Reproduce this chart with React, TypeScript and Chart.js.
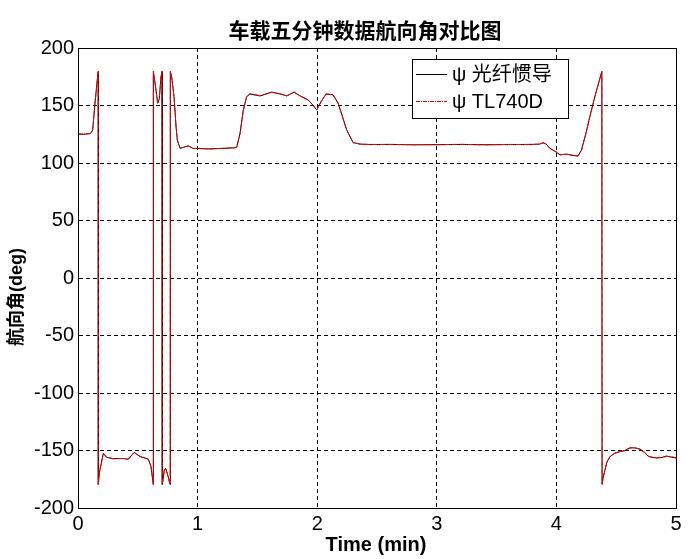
import React, { useEffect, useRef } from "react";
import { Chart, registerables } from "chart.js";

Chart.register(...registerables);

const TITLE = "车载五分钟数据航向角对比图";
const X_TITLE = "Time (min)";
const Y_TITLE = "航向角(deg)";
const LEGEND_LABELS = ["ψ 光纤惯导", "ψ TL740D"];
const X_TICKS = [0, 1, 2, 3, 4, 5];
const Y_TICKS = [-200, -150, -100, -50, 0, 50, 100, 150, 200];

// time in minutes
const timeMin = [
  0, 0.05, 0.1, 0.115, 0.123, 0.142, 0.161, 0.17,
  0.17, 0.178, 0.212, 0.24, 0.295, 0.38, 0.42, 0.47, 0.52, 0.588, 0.61, 0.63,
  0.63, 0.652, 0.666, 0.68, 0.694, 0.703,
  0.705, 0.722, 0.733, 0.747, 0.77,
  0.772, 0.783, 0.803, 0.82, 0.83, 0.853, 0.88, 0.922, 0.96,
  1.0, 1.1, 1.2, 1.3, 1.327, 1.355, 1.382, 1.41, 1.438,
  1.522, 1.62, 1.69, 1.745, 1.806, 1.87, 1.923, 1.957, 1.996, 2.03, 2.074,
  2.132, 2.174, 2.207, 2.247, 2.3, 2.358, 2.44,
  2.6, 2.8, 3.0, 3.2, 3.4, 3.6, 3.8, 3.86, 3.888, 3.913, 3.946, 3.997,
  4.03, 4.086, 4.13, 4.18, 4.21, 4.247, 4.28, 4.314, 4.337, 4.38,
  4.382, 4.39, 4.406, 4.423, 4.448, 4.49, 4.532, 4.573, 4.615, 4.657,
  4.699, 4.74, 4.766, 4.8, 4.838, 4.883, 4.922, 4.958, 5.0,
];

// heading (deg), fiber-optic INS
const headingFOG = [
  125, 125, 125.5, 127, 129, 152, 172, 179.5,
  -179.5, -169.6, -152.5, -156, -157, -157, -157.7, -151.6, -155.4, -157.4, -164, -179.5,
  179.5, 163.5, 151.9, 156, 175, 179.5,
  -179.5, -167, -165.5, -170, -179.5,
  179.5, 175, 157.7, 131.6, 120, 112.8, 113.6, 114.8, 112.8,
  112.5, 112.3, 112.6, 113.2, 113.7, 125.8, 146, 157.7, 160,
  158.3, 161.7, 160, 158.5, 161.5, 157.7, 154.8, 151.3, 146, 153, 160,
  159.4, 152.2, 141.7, 128.7, 117.7, 116.5, 116,
  116.2, 115.8, 116, 116.1, 115.9, 116, 116.2, 116.4, 117.7, 116.5, 112.8, 109.6,
  107, 107.8, 106.7, 106, 111.3, 126, 140.3, 154.8, 163.5, 179.5,
  -179.5, -174, -167, -160, -155.4, -152.2, -151, -150, -147.6, -147.8,
  -148.7, -152, -154.8, -156, -156.5, -156, -154.8, -155.7, -156.5,
];

// heading (deg), TL740D
const headingTL740D = [
  125.3, 125.2, 125.7, 127.2, 129.4, 151.6, 171.7, 179.6,
  -179.6, -169.2, -152.8, -155.7, -157.3, -156.8, -157.5, -151.9, -155.1, -157.6, -163.6, -179.6,
  179.6, 163.1, 152.3, 156.4, 174.6, 179.6,
  -179.6, -166.6, -165.9, -170.3, -179.6,
  179.6, 174.6, 157.3, 131.2, 120.3, 113.1, 113.4, 115.1, 112.6,
  112.8, 112.1, 112.8, 113, 113.9, 125.4, 145.6, 157.4, 160.3,
  158.6, 161.4, 160.3, 158.2, 161.8, 157.4, 155.1, 151, 146.3, 152.7, 160.3,
  159.1, 152.5, 141.3, 128.3, 118, 116.3, 116.2,
  116, 116, 115.8, 116.3, 115.7, 116.2, 116, 116.6, 117.5, 116.7, 112.5, 109.9,
  107.3, 107.5, 106.9, 106.2, 111, 125.6, 140.6, 154.5, 163.8, 179.6,
  -179.6, -173.6, -167.3, -159.7, -155.1, -152.5, -150.7, -150.3, -147.9, -147.5,
  -149, -151.7, -155.1, -155.8, -156.2, -156.3, -155.1, -155.4, -156.2,
];

const toPoints = (xs: number[], ys: number[]) => xs.map((x, i) => ({ x, y: ys[i] }));

const decorPlugin = {
  id: "decor",
  afterDraw(chart: any) {
    const { ctx, chartArea: a } = chart;
    ctx.save();
    ctx.setLineDash([]);
    ctx.strokeStyle = "#000";
    ctx.lineWidth = 1;
    const l = Math.round(a.left) + 0.5;
    const t = Math.round(a.top) + 0.5;
    const r = Math.round(a.right) + 0.5;
    const b = Math.round(a.bottom) + 0.5;
    ctx.strokeRect(l, t, r - l, b - t);

    ctx.fillStyle = "#000";
    ctx.textAlign = "center";
    ctx.textBaseline = "middle";
    ctx.font = 'bold 21px "Noto Sans CJK SC"';
    ctx.fillText(TITLE, 365, 30);

    ctx.font = 'bold 20px "Liberation Sans"';
    ctx.fillText(X_TITLE, 376, 545);

    ctx.save();
    ctx.translate(17, 297);
    ctx.rotate(-Math.PI / 2);
    ctx.font = 'bold 18px "Liberation Sans", "Noto Sans CJK SC"';
    ctx.fillText(Y_TITLE, 0, 0);
    ctx.restore();

    // legend
    ctx.fillStyle = "#fff";
    ctx.fillRect(412, 59, 156, 59);
    ctx.strokeStyle = "#000";
    ctx.strokeRect(412.5, 59.5, 156, 59);
    ctx.beginPath();
    ctx.moveTo(416, 74.5);
    ctx.lineTo(447, 74.5);
    ctx.strokeStyle = "#000";
    ctx.stroke();
    ctx.beginPath();
    ctx.setLineDash([4, 1, 1, 1]);
    ctx.moveTo(416, 101.5);
    ctx.lineTo(447, 101.5);
    ctx.strokeStyle = "#ff0000";
    ctx.stroke();
    ctx.setLineDash([]);
    ctx.fillStyle = "#000";
    ctx.textAlign = "left";
    ctx.font = '20px "Liberation Sans", "Noto Sans CJK SC"';
    ctx.fillText(LEGEND_LABELS[0], 452, 75);
    ctx.fillText(LEGEND_LABELS[1], 452, 102);
    ctx.restore();
  },
};

export default function App() {
  const ref = useRef<HTMLCanvasElement | null>(null);
  useEffect(() => {
    if (!ref.current) return;
    const tickFont = { family: '"Liberation Sans", Arial', size: 20 };
    const chart = new Chart(ref.current, {
      type: "line",
      data: {
        datasets: [
          {
            label: LEGEND_LABELS[0],
            data: toPoints(timeMin, headingFOG),
            borderColor: "#000000",
            borderWidth: 1,
            pointRadius: 0,
            tension: 0,
            order: 2,
          },
          {
            label: LEGEND_LABELS[1],
            data: toPoints(timeMin, headingTL740D),
            borderColor: "#ff0000",
            borderWidth: 1,
            borderDash: [5, 1, 1, 1],
            pointRadius: 0,
            tension: 0,
            order: 1,
          },
        ],
      },
      options: {
        animation: false,
        responsive: false,
        devicePixelRatio: 1,
        layout: { padding: { top: 48, right: 24, left: 0, bottom: 0 } },
        plugins: {
          legend: { display: false },
          title: { display: false },
          tooltip: { enabled: false },
        },
        scales: {
          x: {
            type: "linear",
            min: 0,
            max: 5,
            afterFit: (s: any) => {
              s.height = 51;
            },
            afterBuildTicks: (s: any) => {
              s.ticks = X_TICKS.map((v) => ({ value: v }));
            },
            ticks: { font: tickFont, color: "#000", padding: 4, maxRotation: 0, autoSkip: false },
            grid: { color: "#000", lineWidth: 1, drawTicks: false },
            border: { display: true, color: "#000", dash: [4, 3] },
          },
          y: {
            type: "linear",
            min: -200,
            max: 200,
            afterFit: (s: any) => {
              s.width = 78;
            },
            afterBuildTicks: (s: any) => {
              s.ticks = Y_TICKS.map((v) => ({ value: v }));
            },
            ticks: { font: tickFont, color: "#000", padding: 4, autoSkip: false },
            grid: { color: "#000", lineWidth: 1, drawTicks: false },
            border: { display: true, color: "#000", dash: [4, 3] },
          },
        },
      },
      plugins: [decorPlugin],
    } as any);
    return () => chart.destroy();
  }, []);
  return (
    <div style={{ position: "absolute", left: 0, top: 0, width: 700, height: 559, background: "#fff" }}>
      <canvas ref={ref} width={700} height={559} style={{ width: 700, height: 559 }} />
    </div>
  );
}
